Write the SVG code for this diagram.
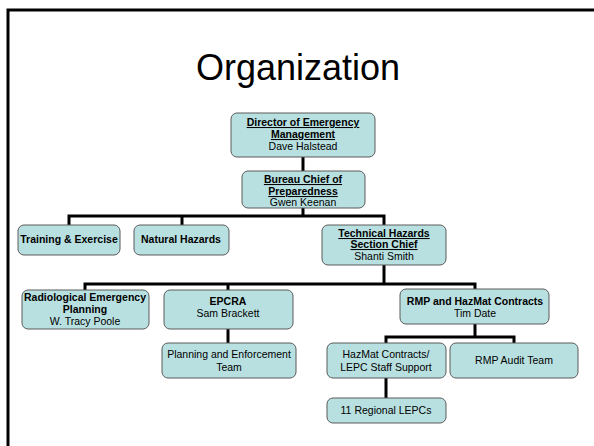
<svg xmlns="http://www.w3.org/2000/svg" width="594" height="446" viewBox="0 0 594 446">
<style>
.box{fill:#b9e0e1;stroke:#5a5a5a;stroke-width:1}
.t{font-family:"Liberation Sans",Arial,sans-serif;font-size:10.5px;fill:#000;text-anchor:middle}
.b{font-weight:bold}
.u{text-decoration:underline}
.c{fill:none;stroke:#000;stroke-width:3}
</style>
<rect width="594" height="446" fill="#fff"/>
<path d="M8 446 V10 H594" fill="none" stroke="#000" stroke-width="3"/>
<text x="298" y="80" font-family="'Liberation Sans',Arial,sans-serif" font-size="36" text-anchor="middle">Organization</text>
<g id="connectors">
<path class="c" d="M303 157 V171"/>
<path class="c" d="M303 208 V216"/>
<path class="c" d="M69 225 V216 H384 V225"/>
<path class="c" d="M182 216 V225"/>
<path class="c" d="M384 265 V284"/>
<path class="c" d="M85 290 V284 H475 V289"/>
<path class="c" d="M228 284 V290"/>
<path class="c" d="M228 329 V343"/>
<path class="c" d="M475 324 V337"/>
<path class="c" d="M386 343 V337 H514 V343"/>
<path class="c" d="M386 378 V398"/>
</g>
<g id="director">
<rect class="box" x="231" y="113" width="144" height="44" rx="6"/>
<text class="t b u" x="303" y="126">Director of Emergency </text>
<text class="t b u" x="303" y="138">Management</text>
<text class="t" x="303" y="150">Dave Halstead</text>
</g>
<g id="bureau">
<rect class="box" x="242" y="171" width="123" height="37" rx="6"/>
<text class="t b u" x="303" y="183">Bureau Chief of</text>
<text class="t b u" x="303" y="195">Preparedness</text>
<text class="t" x="303" y="206">Gwen Keenan</text>
</g>
<g id="training">
<rect class="box" x="18" y="225" width="102" height="30" rx="6"/>
<text class="t b" x="69" y="243">Training &amp; Exercise</text>
</g>
<g id="natural">
<rect class="box" x="134" y="225" width="95" height="30" rx="6"/>
<text class="t b" x="181" y="243">Natural Hazards</text>
</g>
<g id="technical">
<rect class="box" x="322" y="225" width="124" height="40" rx="6"/>
<text class="t b u" x="384" y="237">Technical Hazards</text>
<text class="t b u" x="384" y="248">Section Chief</text>
<text class="t" x="384" y="260">Shanti Smith</text>
</g>
<g id="radiological">
<rect class="box" x="22" y="290" width="127" height="39" rx="6"/>
<text class="t b" x="85" y="301">Radiological Emergency</text>
<text class="t b" x="85" y="313">Planning</text>
<text class="t" x="85" y="325">W. Tracy Poole</text>
</g>
<g id="epcra">
<rect class="box" x="164" y="290" width="129" height="39" rx="6"/>
<text class="t b" x="228" y="305">EPCRA</text>
<text class="t" x="228" y="317">Sam Brackett</text>
</g>
<g id="planning">
<rect class="box" x="162" y="343" width="134" height="35" rx="6"/>
<text class="t" x="229" y="358">Planning and Enforcement</text>
<text class="t" x="229" y="371">Team</text>
</g>
<g id="rmp">
<rect class="box" x="400" y="289" width="149" height="35" rx="6"/>
<text class="t b" x="475" y="305">RMP and HazMat Contracts</text>
<text class="t" x="475" y="317">Tim Date</text>
</g>
<g id="hazmat">
<rect class="box" x="327" y="343" width="119" height="35" rx="6"/>
<text class="t" x="386" y="358">HazMat Contracts/</text>
<text class="t" x="386" y="371">LEPC Staff Support</text>
</g>
<g id="rmpaudit">
<rect class="box" x="450" y="343" width="128" height="35" rx="6"/>
<text class="t" x="514" y="364">RMP Audit Team</text>
</g>
<g id="regional">
<rect class="box" x="327" y="398" width="119" height="25" rx="6"/>
<text class="t" x="386" y="414">11 Regional LEPCs</text>
</g>
</svg>
